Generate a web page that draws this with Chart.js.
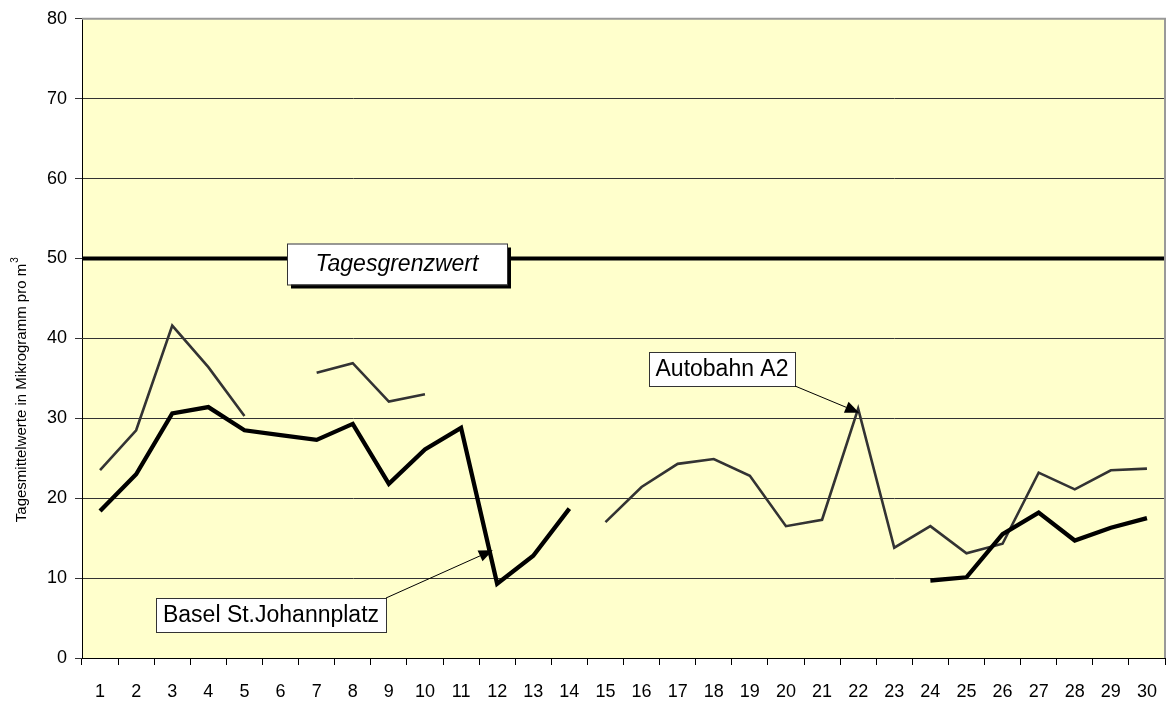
<!DOCTYPE html>
<html>
<head>
<meta charset="utf-8">
<script src="https://cdn.jsdelivr.net/npm/chart.js@4/dist/chart.umd.min.js"></script>
<style>
  html, body { margin: 0; padding: 0; background: #fff; }
  #wrap { width: 1173px; height: 704px; }
</style>
</head>
<body>
<div id="wrap"><canvas id="chart" width="1173" height="704"></canvas></div>
<script>
// days of the month
const days = ['1','2','3','4','5','6','7','8','9','10','11','12','13','14','15',
              '16','17','18','19','20','21','22','23','24','25','26','27','28','29','30'];

// Autobahn A2 (thin grey line)
const autobahnA2 = [23.5, 28.5, 41.6, 36.4, 30.3, null, 35.7, 36.9, 32.1, 33.0,
                    null, null, null, null, 17.0, 21.4, 24.3, 24.9, 22.8, 16.5,
                    17.3, 31.2, 13.8, 16.5, 13.1, 14.3, 23.2, 21.1, 23.5, 23.7];

// Basel St.Johannplatz (thick black line)
const baselStJohann = [18.4, 23.0, 30.6, 31.4, 28.5, 27.9, 27.3, 29.3, 21.8, 26.1,
                       28.8, 9.3, 12.8, 18.7, null, null, null, null, null, null,
                       null, null, null, 9.7, 10.1, 15.5, 18.2, 14.7, 16.3, 17.5];

// daily limit value, drawn edge to edge
const limitEnds = ['start', 'end'];
const tagesGrenzwert = [50, 50];

const yTicks = [0, 10, 20, 30, 40, 50, 60, 70, 80];

const FONT = '"Liberation Sans", Arial, sans-serif';

// yellow plot background + grey top/right frame
const plotBackground = {
  id: 'plotBackground',
  beforeDraw(chart) {
    const { ctx, chartArea: a } = chart;
    ctx.save();
    ctx.fillStyle = '#FFFFCC';
    ctx.fillRect(a.left, a.top, a.right - a.left, a.bottom - a.top);
    ctx.restore();
  },
  afterDraw(chart) {
    const { ctx, chartArea: a } = chart;
    ctx.save();
    ctx.strokeStyle = '#999999';
    ctx.lineWidth = 2;
    ctx.beginPath();
    ctx.moveTo(a.left, a.top);
    ctx.lineTo(a.right, a.top);
    ctx.lineTo(a.right, a.bottom);
    ctx.stroke();
    ctx.restore();
  }
};

function labelBox(ctx, text, x, y, w, h, opts) {
  ctx.save();
  if (opts.shadow) {
    ctx.fillStyle = '#000';
    ctx.fillRect(x + 4, y + 4, w, h);
  }
  ctx.fillStyle = '#fff';
  ctx.fillRect(x, y, w, h);
  ctx.strokeStyle = '#333';
  ctx.lineWidth = 1;
  ctx.strokeRect(x + 0.5, y + 0.5, w, h);
  ctx.fillStyle = '#000';
  ctx.font = (opts.italic ? 'italic ' : '') + opts.size + 'px ' + FONT;
  ctx.textAlign = 'center';
  ctx.textBaseline = 'middle';
  ctx.fillText(text, x + w / 2, y + h / 2 + 1);
  ctx.restore();
}

function arrow(ctx, x1, y1, x2, y2) {
  const ang = Math.atan2(y2 - y1, x2 - x1);
  const len = 14, half = 6;
  ctx.save();
  ctx.strokeStyle = '#000';
  ctx.fillStyle = '#000';
  ctx.lineWidth = 1;
  ctx.beginPath();
  ctx.moveTo(x1, y1);
  ctx.lineTo(x2 - Math.cos(ang) * len, y2 - Math.sin(ang) * len);
  ctx.stroke();
  ctx.beginPath();
  ctx.moveTo(x2, y2);
  ctx.lineTo(x2 - Math.cos(ang) * len + Math.sin(ang) * half, y2 - Math.sin(ang) * len - Math.cos(ang) * half);
  ctx.lineTo(x2 - Math.cos(ang) * len - Math.sin(ang) * half, y2 - Math.sin(ang) * len + Math.cos(ang) * half);
  ctx.closePath();
  ctx.fill();
  ctx.restore();
}

// text boxes, arrows and rotated axis title
const annotations = {
  id: 'annotations',
  afterDatasetsDraw(chart) {
    const { ctx, scales: { x, y } } = chart;

    // limit label sitting on the 50 line
    const yLimit = y.getPixelForValue(50);
    labelBox(ctx, 'Tagesgrenzwert', 287, yLimit - 15, 220, 41, { italic: true, size: 23, shadow: true });

    // Autobahn A2 label pointing at day 22
    labelBox(ctx, 'Autobahn A2', 649, 352, 146, 34, { size: 23 });
    arrow(ctx, 795, 386, x.getPixelForValue(21) + 1, y.getPixelForValue(autobahnA2[21]) + 4);

    // Basel label pointing at the drop before day 12
    labelBox(ctx, 'Basel St.Johannplatz', 156, 598, 230, 34, { size: 23 });
    arrow(ctx, 386, 598, x.getPixelForValue(10.88), y.getPixelForValue(13.5));
  },
  afterDraw(chart) {
    const { ctx } = chart;
    const main = 'Tagesmittelwerte in Mikrogramm pro m';
    ctx.save();
    ctx.translate(26, 390);
    ctx.rotate(-Math.PI / 2);
    ctx.fillStyle = '#000';
    ctx.font = '15px ' + FONT;
    ctx.textBaseline = 'alphabetic';
    const w = ctx.measureText(main).width;
    const sw = 6;
    ctx.textAlign = 'left';
    ctx.fillText(main, -(w + sw) / 2, 0);
    ctx.font = '10px ' + FONT;
    ctx.fillText('3', -(w + sw) / 2 + w + 1, -8);
    ctx.restore();
  }
};

new Chart(document.getElementById('chart'), {
  type: 'line',
  data: {
    labels: days,
    datasets: [
      {
        label: 'Tagesgrenzwert',
        data: tagesGrenzwert,
        xAxisID: 'xLimit',
        borderColor: '#000',
        borderWidth: 4,
        pointRadius: 0,
        order: 3
      },
      {
        label: 'Autobahn A2',
        data: autobahnA2,
        borderColor: '#333333',
        borderWidth: 2.6,
        borderJoinStyle: 'miter',
        pointRadius: 0,
        spanGaps: false,
        order: 2
      },
      {
        label: 'Basel St.Johannplatz',
        data: baselStJohann,
        borderColor: '#000',
        borderWidth: 4.3,
        borderJoinStyle: 'miter',
        pointRadius: 0,
        spanGaps: false,
        order: 1
      }
    ]
  },
  options: {
    responsive: false,
    animation: false,
    layout: { padding: { top: 14, right: 2, left: 0, bottom: 0 } },
    plugins: {
      legend: { display: false },
      tooltip: { enabled: false }
    },
    scales: {
      x: {
        offset: true,
        grid: {
          offset: true,
          drawOnChartArea: false,
          drawTicks: true,
          tickLength: 7,
          color: '#000'
        },
        border: { color: '#000', width: 1 },
        ticks: {
          color: '#000',
          font: { family: FONT, size: 18 },
          padding: 16,
          maxRotation: 0,
          autoSkip: false
        },
        afterFit(scale) { scale.height = 46; }
      },
      xLimit: {
        type: 'category',
        labels: limitEnds,
        offset: false,
        display: false
      },
      y: {
        min: 0,
        max: 80,
        afterBuildTicks(scale) { scale.ticks = yTicks.map(v => ({ value: v })); },
        grid: {
          color: '#333333',
          lineWidth: 1,
          drawTicks: true,
          tickLength: 7
        },
        border: { color: '#000', width: 1 },
        ticks: {
          color: '#000',
          font: { family: FONT, size: 18 },
          padding: 8
        },
        afterFit(scale) { scale.width = 82; }
      }
    }
  },
  plugins: [plotBackground, annotations]
});
</script>
</body>
</html>
